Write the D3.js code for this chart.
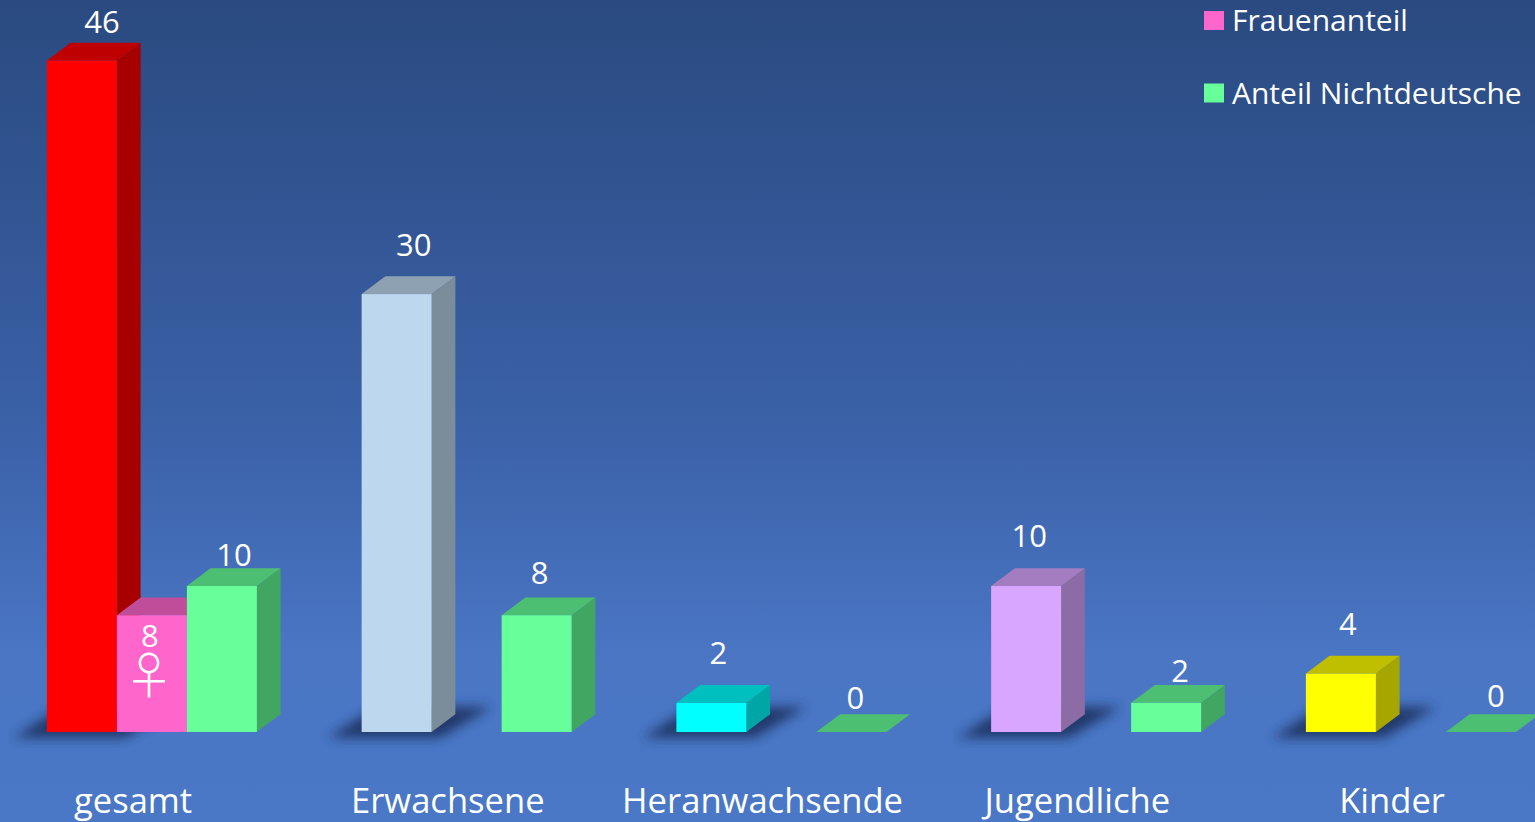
<!DOCTYPE html>
<html><head><meta charset="utf-8">
<style>html,body{margin:0;padding:0;overflow:hidden;background:#4a78c6}svg{display:block}text{font-family:"Open Sans",sans-serif;fill:#fff}</style>
<script src="https://cdn.jsdelivr.net/npm/d3@7"></script>
</head><body><svg id="c" width="1535" height="822"></svg>
<script>
const categories=["gesamt","Erwachsene","Heranwachsende","Jugendliche","Kinder"];
const mainValues=[46,30,2,10,4];
const womenValues=[8,null,null,null,null];
const nonGermanValues=[10,8,0,2,0];
const mainColors=["#ff0000","#bdd7ee","#00ffff","#d9a6ff","#ffff00"];
const womenColor="#ff66cc";
const nonGermanColor="#66ff99";
const legendLabels=["Frauenanteil","Anteil Nichtdeutsche"];
// label placement relative to the bar's front centre / top of the block
const mainNudge=[[20,-21],[17,-31],[7,-32],[3,-32],[7,-32]];
const womenNudge=[-2,39];
const nonGermanNudge=[[12,-13],[3,-24],[4,-16],[14,-14],[15,-18]];

const W=1535,H=822,baseY=732,topY=60.5,dx=23.7,dy=17.8;
const svg=d3.select("#c");
const defs=svg.append("defs");
const g=defs.append("linearGradient").attr("id","bg").attr("x1",0).attr("x2",0).attr("y1",0).attr("y2",1);
[[0,"#2a4a80"],[.5,"#3a60a6"],[.8,"#4a76c4"],[1,"#4a78c6"]].forEach(s=>g.append("stop").attr("offset",s[0]).attr("stop-color",s[1]));
defs.append("filter").attr("id","blur").attr("x","-40%").attr("y","-80%").attr("width","180%").attr("height","260%")
  .append("feGaussianBlur").attr("stdDeviation",6);
svg.append("rect").attr("width",W).attr("height",H).attr("fill","url(#bg)");

const x=d3.scaleBand().domain(categories).range([-24.3,1549.45]);
const sub=d3.scaleBand().domain(["main","women","nonGerman"]).range([71.2,281.2]);
const y=d3.scaleLinear().domain([0,46]).range([baseY,topY]);
const bw=sub.bandwidth();
const line=d3.line();

const rows=[];
categories.forEach((c,i)=>{
  rows.push({c,s:"main",v:mainValues[i],col:mainColors[i],n:mainNudge[i]});
  if(womenValues[i]!=null) rows.push({c,s:"women",v:womenValues[i],col:womenColor,n:womenNudge});
  rows.push({c,s:"nonGerman",v:nonGermanValues[i],col:nonGermanColor,n:nonGermanNudge[i]});
});
// shadows under the main bars
svg.append("g").selectAll("path").data(rows.filter(d=>d.s==="main")).join("path")
  .attr("filter","url(#blur)").attr("fill","#1d3160").attr("opacity",.9)
  .attr("d",d=>{const l=x(d.c)+sub(d.s),r=l+bw;return line([[l-34,baseY+6],[r+8,baseY+6],[r+60,baseY-25],[l+15,baseY-25]])+"Z";});

const scaled=(c,k)=>{const q=d3.rgb(c);return d3.rgb(q.r*k,q.g*k,q.b*k).formatHex();};
const bars=svg.append("g").selectAll("g").data(rows).join("g");
bars.each(function(d){
  const s=d3.select(this),l=x(d.c)+sub(d.s),r=l+bw,t=y(d.v);
  if(d.v>0) s.append("path").attr("fill",scaled(d.col,.65)).attr("d",line([[r,t],[r+dx,t-dy],[r+dx,baseY-dy],[r,baseY]])+"Z");
  s.append("path").attr("fill",scaled(d.col,.75)).attr("d",line([[l,t],[l+dx,t-dy],[r+dx,t-dy],[r,t]])+"Z");
  if(d.v>0) s.append("rect").attr("x",l).attr("y",t).attr("width",bw).attr("height",baseY-t).attr("fill",d.col);
});
// value labels
svg.append("g").selectAll("text").data(rows).join("text")
  .attr("text-anchor","middle").attr("font-size",31)
  .attr("x",d=>x(d.c)+sub(d.s)+bw/2+d.n[0])
  .attr("y",d=>y(d.v)-dy+d.n[1]+11)
  .text(d=>d.v);
// female sign
svg.append("text").attr("x",x("gesamt")+sub("women")+bw/2-3).attr("y",694).attr("text-anchor","middle")
  .attr("font-size",50).style("font-family","Noto Sans CJK SC").style("font-weight",300).text("\u2640");
// category axis
const ax=svg.append("g").attr("transform",`translate(0,${baseY})`).call(d3.axisBottom(x).tickSize(0).tickPadding(56));
ax.select(".domain").remove();
ax.selectAll("text").attr("font-size",34.6).attr("font-family",null).attr("fill","#fff");
// legend
const leg=svg.append("g").selectAll("g").data(legendLabels).join("g").attr("transform",(d,i)=>`translate(1204,${11+72.5*i})`);
leg.append("rect").attr("width",20).attr("height",19).attr("fill",(d,i)=>[womenColor,nonGermanColor][i]);
leg.append("text").attr("x",28).attr("y",20).attr("font-size",30).text(d=>d);
</script></body></html>
